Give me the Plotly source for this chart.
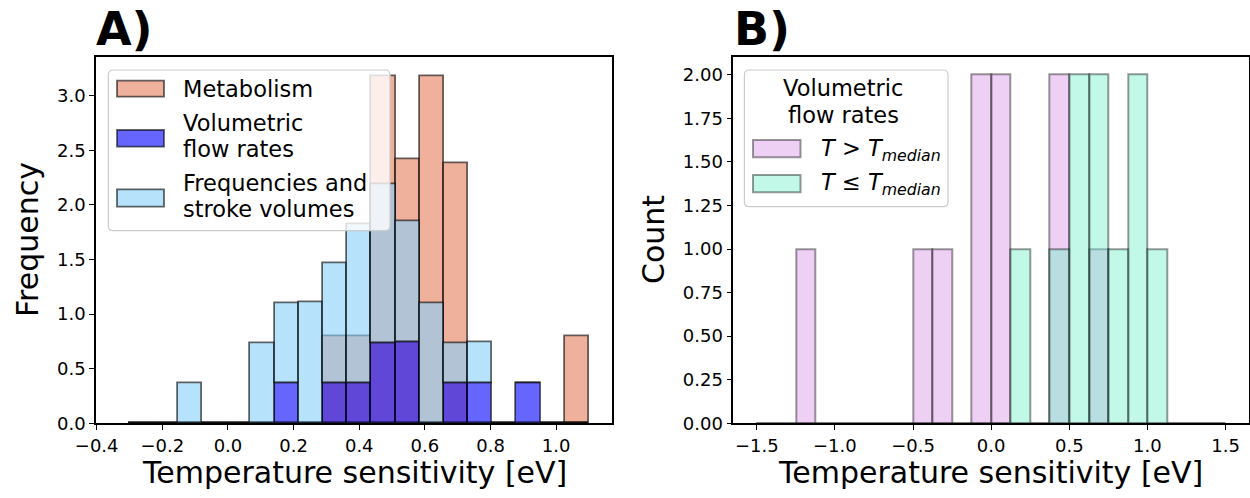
import plotly.graph_objects as go

W, H = 1250, 498
FONT = "DejaVu Sans"

# ---------------- Panel A: temperature sensitivities (shared bins, eV) ----------------
edges_a = [-0.300, -0.226, -0.153, -0.079, -0.005, 0.068, 0.142, 0.216, 0.289, 0.363,
           0.437, 0.511, 0.584, 0.658, 0.732, 0.805, 0.879, 0.953, 1.026, 1.100]
metabolism_counts = [0, 0, 0, 0, 0, 0, 0, 0, 1, 1, 4, 3, 4, 3, 0, 0, 0, 0, 1]
flow_counts =       [0, 0, 0, 0, 0, 0, 1, 0, 1, 1, 2, 2, 0, 1, 1, 0, 1, 0, 0]
freq_counts =       [0, 0, 1, 0, 0, 2, 2, 3, 3, 4, 4, 3, 3, 1, 1, 0, 0, 0, 0]

xticks_a = [-0.4, -0.2, 0.0, 0.2, 0.4, 0.6, 0.8, 1.0]
xticklabels_a = ["\u22120.4", "\u22120.2", "0.0", "0.2", "0.4", "0.6", "0.8", "1.0"]
yticks_a = [0.0, 0.5, 1.0, 1.5, 2.0, 2.5, 3.0]
yticklabels_a = ["0.0", "0.5", "1.0", "1.5", "2.0", "2.5", "3.0"]

# ---------------- Panel B: volumetric flow rates split by temperature ----------------
edges_b = [-1.5, -1.375, -1.25, -1.125, -1.0, -0.875, -0.75, -0.625, -0.5, -0.375,
           -0.25, -0.125, 0.0, 0.125, 0.25, 0.375, 0.5, 0.625, 0.75, 0.875,
           1.0, 1.125, 1.25, 1.375, 1.5]
warm_counts = [0, 0, 1, 0, 0, 0, 0, 0, 1, 1, 0, 2, 2, 0, 0, 2, 0, 1, 0, 0, 0, 0, 0, 0]
cool_counts = [0, 0, 0, 0, 0, 0, 0, 0, 0, 0, 0, 0, 0, 1, 0, 1, 2, 2, 1, 2, 1, 0, 0, 0]

xticks_b = [-1.5, -1.0, -0.5, 0.0, 0.5, 1.0, 1.5]
xticklabels_b = ["\u22121.5", "\u22121.0", "\u22120.5", "0.0", "0.5", "1.0", "1.5"]
yticks_b = [0.0, 0.25, 0.5, 0.75, 1.0, 1.25, 1.5, 1.75, 2.0]
yticklabels_b = ["0.00", "0.25", "0.50", "0.75", "1.00", "1.25", "1.50", "1.75", "2.00"]

# ---------------- styles ----------------
C_META = "rgba(233,150,122,0.74)"
C_FLOW = "rgba(0,0,255,0.6)"
C_FREQ = "rgba(135,206,250,0.6)"
EDGE_A = "rgba(0,0,0,0.6)"
C_WARM = "rgba(215,138,230,0.4)"
C_COOL = "rgba(117,239,204,0.45)"
EDGE_B = "rgba(0,0,0,0.4)"


def centers(edges):
    return [(a + b) / 2 for a, b in zip(edges[:-1], edges[1:])]


def widths(edges):
    return [b - a for a, b in zip(edges[:-1], edges[1:])]


def density(counts, edges, total):
    return [c / (total * w) for c, w in zip(counts, widths(edges))]


# histogram normalisation (metabolism alone; flow + frequency stacked together)
meta_h = density(metabolism_counts, edges_a, sum(metabolism_counts))
stack_total = sum(flow_counts) + sum(freq_counts)
flow_h = density(flow_counts, edges_a, stack_total)
freq_h = density(freq_counts, edges_a, stack_total)

fig = go.Figure()

cx_a, w_a = centers(edges_a), widths(edges_a)
fig.add_trace(go.Bar(x=cx_a, y=meta_h, width=w_a, marker=dict(color=C_META, line=dict(color=EDGE_A, width=1.8)),
                     name="Metabolism", xaxis="x", yaxis="y"))
fig.add_trace(go.Bar(x=cx_a, y=flow_h, width=w_a, marker=dict(color=C_FLOW, line=dict(color=EDGE_A, width=1.8)),
                     name="Volumetric flow rates", xaxis="x", yaxis="y"))
fig.add_trace(go.Bar(x=cx_a, y=freq_h, base=flow_h, width=w_a,
                     marker=dict(color=C_FREQ, line=dict(color=EDGE_A, width=1.8)),
                     name="Frequencies and stroke volumes", xaxis="x", yaxis="y"))

cx_b, w_b = centers(edges_b), widths(edges_b)
fig.add_trace(go.Bar(x=cx_b, y=warm_counts, width=w_b, marker=dict(color=C_WARM, line=dict(color=EDGE_B, width=2)),
                     name="T > T_median", xaxis="x2", yaxis="y2"))
fig.add_trace(go.Bar(x=cx_b, y=cool_counts, width=w_b, marker=dict(color=C_COOL, line=dict(color=EDGE_B, width=2)),
                     name="T <= T_median", xaxis="x2", yaxis="y2"))


def px(x):
    return x / W


def py(y):
    return 1 - y / H


Y_DOM = [py(423.3), py(57.3)]
axis_common = dict(showgrid=False, zeroline=False, showline=True, linecolor="black", linewidth=1.5,
                   mirror=True, ticks="outside", ticklen=5, tickwidth=1.3, tickcolor="black",
                   tickfont=dict(family=FONT, size=18, color="black"), tickmode="array",
                   automargin=False)

fig.update_layout(
    width=W, height=H,
    margin=dict(l=0, r=0, t=0, b=0, pad=0, autoexpand=False),
    paper_bgcolor="white", plot_bgcolor="white",
    barmode="overlay", bargap=0, showlegend=False,
    font=dict(family=FONT, color="black"),
    xaxis=dict(domain=[px(96), px(612.3)], range=[-0.402, 1.171], anchor="y",
               tickvals=xticks_a, ticktext=xticklabels_a, **axis_common),
    yaxis=dict(domain=Y_DOM, range=[0, 3.352], anchor="x",
               tickvals=yticks_a, ticktext=yticklabels_a, **axis_common),
    xaxis2=dict(domain=[px(733.3), px(1249)], range=[-1.65, 1.65], anchor="y2",
                tickvals=xticks_b, ticktext=xticklabels_b, **axis_common),
    yaxis2=dict(domain=Y_DOM, range=[0, 2.1], anchor="x2",
                tickvals=yticks_b, ticktext=yticklabels_b, **axis_common),
)

shapes = []
annotations = []


def rounded_box(x0, y0, x1, y1, r=5):
    p = [
        f"M {px(x0 + r)} {py(y0)}", f"L {px(x1 - r)} {py(y0)}",
        f"Q {px(x1)} {py(y0)} {px(x1)} {py(y0 + r)}", f"L {px(x1)} {py(y1 - r)}",
        f"Q {px(x1)} {py(y1)} {px(x1 - r)} {py(y1)}", f"L {px(x0 + r)} {py(y1)}",
        f"Q {px(x0)} {py(y1)} {px(x0)} {py(y1 - r)}", f"L {px(x0)} {py(y0 + r)}",
        f"Q {px(x0)} {py(y0)} {px(x0 + r)} {py(y0)}", "Z",
    ]
    return dict(type="path", path=" ".join(p), xref="paper", yref="paper", layer="above",
                fillcolor="rgba(255,255,255,0.8)", line=dict(color="rgba(204,204,204,1)", width=1.2))


def swatch(x0, y0, x1, y1, fill, edge, lw):
    return dict(type="rect", xref="paper", yref="paper", layer="above",
                x0=px(x0), x1=px(x1), y0=py(y1), y1=py(y0),
                fillcolor=fill, line=dict(color=edge, width=lw))


def text(x, y, s, size, xanchor="left", angle=0, bold=False):
    if bold:
        s = f"<b>{s}</b>"
    annotations.append(dict(x=px(x), y=py(y), xref="paper", yref="paper", text=s, showarrow=False,
                            xanchor=xanchor, yanchor="middle", textangle=angle, borderpad=0,
                            font=dict(family=FONT, size=size, color="black")))


# legend of panel A
shapes.append(rounded_box(108.3, 70, 390, 230.7))
shapes.append(swatch(117, 80.7, 164, 96.7, C_META, EDGE_A, 1.8))
shapes.append(swatch(117, 130, 164, 146.7, C_FLOW, EDGE_A, 1.8))
shapes.append(swatch(117, 189.3, 164, 206.7, C_FREQ, EDGE_A, 1.8))
text(182, 89, "Metabolism", 22.5)
text(182, 123, "Volumetric", 22.5)
text(182, 149, "flow rates", 22.5)
text(182, 183, "Frequencies and", 22.5)
text(182, 209, "stroke volumes", 22.5)

# legend of panel B
shapes.append(rounded_box(744.4, 70, 948, 206.7))
shapes.append(swatch(753, 140, 800.5, 157.3, C_WARM, EDGE_B, 2))
shapes.append(swatch(753, 175, 800.5, 192.3, C_COOL, EDGE_B, 2))
text(843, 88.3, "Volumetric", 22.5, xanchor="center")
text(843, 115, "flow rates", 22.5, xanchor="center")
text(820, 150, "<i>T</i> &gt; <i>T</i><sub><i>median</i></sub>", 22.5)
text(820, 184, "<i>T</i> \u2264 <i>T</i><sub><i>median</i></sub>", 22.5)

# axis titles
text(354, 472, "Temperature sensitivity [eV]", 30, xanchor="center")
text(991, 472, "Temperature sensitivity [eV]", 30, xanchor="center")
text(27, 240, "Frequency", 30, xanchor="center", angle=-90)
text(653, 240, "Count", 30, xanchor="center", angle=-90)

# panel labels
text(95, 29, "A)", 46, bold=True)
text(733, 29, "B)", 46, bold=True)

fig.update_layout(shapes=shapes, annotations=annotations)
fig.write_html("out.html")
